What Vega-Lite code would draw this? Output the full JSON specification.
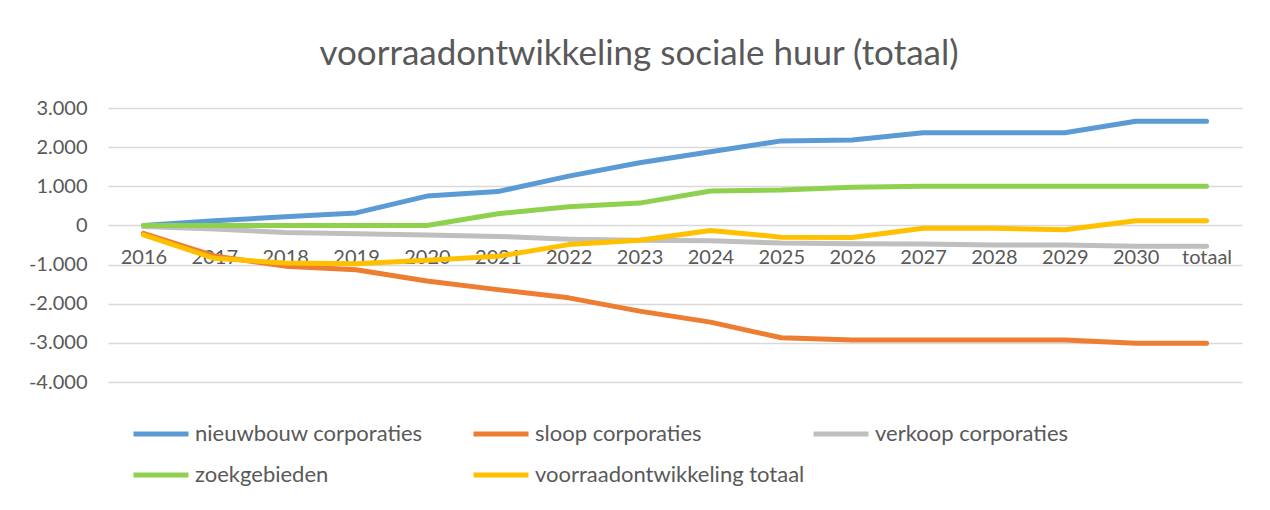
{
  "$schema": "https://vega.github.io/schema/vega-lite/v6.json",
  "width": 1134,
  "height": 274,
  "autosize": "none",
  "padding": {"left": 108, "top": 108, "right": 28, "bottom": 128},
  "background": "white",
  "config": {
    "locale": {"number": {"decimal": ",", "thousands": ".", "grouping": [3], "currency": ["€", ""], "minus": "-"}},
    "font": "Lato",
    "view": {"stroke": null}
  },
  "title": {
    "text": "voorraadontwikkeling sociale huur (totaal)",
    "font": "Lato",
    "fontSize": 35,
    "fontWeight": "normal",
    "color": "#595959",
    "anchor": "middle",
    "frame": "group",
    "baseline": "alphabetic",
    "offset": -2,
    "dx": -36
  },
  "data": {
    "values": [
      {"jaar": "2016", "reeks": "nieuwbouw corporaties", "waarde": 0},
      {"jaar": "2017", "reeks": "nieuwbouw corporaties", "waarde": 120},
      {"jaar": "2018", "reeks": "nieuwbouw corporaties", "waarde": 220},
      {"jaar": "2019", "reeks": "nieuwbouw corporaties", "waarde": 320},
      {"jaar": "2020", "reeks": "nieuwbouw corporaties", "waarde": 750},
      {"jaar": "2021", "reeks": "nieuwbouw corporaties", "waarde": 865},
      {"jaar": "2022", "reeks": "nieuwbouw corporaties", "waarde": 1260},
      {"jaar": "2023", "reeks": "nieuwbouw corporaties", "waarde": 1600},
      {"jaar": "2024", "reeks": "nieuwbouw corporaties", "waarde": 1880},
      {"jaar": "2025", "reeks": "nieuwbouw corporaties", "waarde": 2160},
      {"jaar": "2026", "reeks": "nieuwbouw corporaties", "waarde": 2180},
      {"jaar": "2027", "reeks": "nieuwbouw corporaties", "waarde": 2370},
      {"jaar": "2028", "reeks": "nieuwbouw corporaties", "waarde": 2370},
      {"jaar": "2029", "reeks": "nieuwbouw corporaties", "waarde": 2370},
      {"jaar": "2030", "reeks": "nieuwbouw corporaties", "waarde": 2660},
      {"jaar": "totaal", "reeks": "nieuwbouw corporaties", "waarde": 2660},
      {"jaar": "2016", "reeks": "sloop corporaties", "waarde": -200},
      {"jaar": "2017", "reeks": "sloop corporaties", "waarde": -780},
      {"jaar": "2018", "reeks": "sloop corporaties", "waarde": -1040},
      {"jaar": "2019", "reeks": "sloop corporaties", "waarde": -1130},
      {"jaar": "2020", "reeks": "sloop corporaties", "waarde": -1420},
      {"jaar": "2021", "reeks": "sloop corporaties", "waarde": -1640},
      {"jaar": "2022", "reeks": "sloop corporaties", "waarde": -1850},
      {"jaar": "2023", "reeks": "sloop corporaties", "waarde": -2190},
      {"jaar": "2024", "reeks": "sloop corporaties", "waarde": -2470},
      {"jaar": "2025", "reeks": "sloop corporaties", "waarde": -2870},
      {"jaar": "2026", "reeks": "sloop corporaties", "waarde": -2930},
      {"jaar": "2027", "reeks": "sloop corporaties", "waarde": -2930},
      {"jaar": "2028", "reeks": "sloop corporaties", "waarde": -2930},
      {"jaar": "2029", "reeks": "sloop corporaties", "waarde": -2930},
      {"jaar": "2030", "reeks": "sloop corporaties", "waarde": -3010},
      {"jaar": "totaal", "reeks": "sloop corporaties", "waarde": -3010},
      {"jaar": "2016", "reeks": "verkoop corporaties", "waarde": -30},
      {"jaar": "2017", "reeks": "verkoop corporaties", "waarde": -90},
      {"jaar": "2018", "reeks": "verkoop corporaties", "waarde": -180},
      {"jaar": "2019", "reeks": "verkoop corporaties", "waarde": -210},
      {"jaar": "2020", "reeks": "verkoop corporaties", "waarde": -245},
      {"jaar": "2021", "reeks": "verkoop corporaties", "waarde": -280},
      {"jaar": "2022", "reeks": "verkoop corporaties", "waarde": -350},
      {"jaar": "2023", "reeks": "verkoop corporaties", "waarde": -380},
      {"jaar": "2024", "reeks": "verkoop corporaties", "waarde": -390},
      {"jaar": "2025", "reeks": "verkoop corporaties", "waarde": -450},
      {"jaar": "2026", "reeks": "verkoop corporaties", "waarde": -465},
      {"jaar": "2027", "reeks": "verkoop corporaties", "waarde": -475},
      {"jaar": "2028", "reeks": "verkoop corporaties", "waarde": -500},
      {"jaar": "2029", "reeks": "verkoop corporaties", "waarde": -500},
      {"jaar": "2030", "reeks": "verkoop corporaties", "waarde": -535},
      {"jaar": "totaal", "reeks": "verkoop corporaties", "waarde": -535},
      {"jaar": "2016", "reeks": "zoekgebieden", "waarde": 0},
      {"jaar": "2017", "reeks": "zoekgebieden", "waarde": 0},
      {"jaar": "2018", "reeks": "zoekgebieden", "waarde": 0},
      {"jaar": "2019", "reeks": "zoekgebieden", "waarde": 0},
      {"jaar": "2020", "reeks": "zoekgebieden", "waarde": 0},
      {"jaar": "2021", "reeks": "zoekgebieden", "waarde": 300},
      {"jaar": "2022", "reeks": "zoekgebieden", "waarde": 480},
      {"jaar": "2023", "reeks": "zoekgebieden", "waarde": 570},
      {"jaar": "2024", "reeks": "zoekgebieden", "waarde": 880},
      {"jaar": "2025", "reeks": "zoekgebieden", "waarde": 905},
      {"jaar": "2026", "reeks": "zoekgebieden", "waarde": 975},
      {"jaar": "2027", "reeks": "zoekgebieden", "waarde": 1000},
      {"jaar": "2028", "reeks": "zoekgebieden", "waarde": 1000},
      {"jaar": "2029", "reeks": "zoekgebieden", "waarde": 1000},
      {"jaar": "2030", "reeks": "zoekgebieden", "waarde": 1000},
      {"jaar": "totaal", "reeks": "zoekgebieden", "waarde": 1000},
      {"jaar": "2016", "reeks": "voorraadontwikkeling totaal", "waarde": -240},
      {"jaar": "2017", "reeks": "voorraadontwikkeling totaal", "waarde": -840},
      {"jaar": "2018", "reeks": "voorraadontwikkeling totaal", "waarde": -960},
      {"jaar": "2019", "reeks": "voorraadontwikkeling totaal", "waarde": -980},
      {"jaar": "2020", "reeks": "voorraadontwikkeling totaal", "waarde": -890},
      {"jaar": "2021", "reeks": "voorraadontwikkeling totaal", "waarde": -790},
      {"jaar": "2022", "reeks": "voorraadontwikkeling totaal", "waarde": -490},
      {"jaar": "2023", "reeks": "voorraadontwikkeling totaal", "waarde": -380},
      {"jaar": "2024", "reeks": "voorraadontwikkeling totaal", "waarde": -130},
      {"jaar": "2025", "reeks": "voorraadontwikkeling totaal", "waarde": -300},
      {"jaar": "2026", "reeks": "voorraadontwikkeling totaal", "waarde": -310},
      {"jaar": "2027", "reeks": "voorraadontwikkeling totaal", "waarde": -70},
      {"jaar": "2028", "reeks": "voorraadontwikkeling totaal", "waarde": -70},
      {"jaar": "2029", "reeks": "voorraadontwikkeling totaal", "waarde": -110},
      {"jaar": "2030", "reeks": "voorraadontwikkeling totaal", "waarde": 120},
      {"jaar": "totaal", "reeks": "voorraadontwikkeling totaal", "waarde": 120}
    ]
  },
  "mark": {"type": "line", "strokeWidth": 5, "strokeCap": "round", "strokeJoin": "round"},
  "encoding": {
    "x": {
      "field": "jaar",
      "type": "ordinal",
      "sort": null,
      "scale": {"type": "point", "padding": 0.5},
      "axis": {
        "orient": "bottom",
        "offset": -156.6,
        "title": null,
        "labelAngle": 0,
        "ticks": false,
        "domain": false,
        "grid": false,
        "labelPadding": 22,
        "labelFontSize": 20,
        "labelColor": "#595959",
        "labelFont": "Lato"
      }
    },
    "y": {
      "field": "waarde",
      "type": "quantitative",
      "scale": {"domain": [-4000, 3000], "nice": false, "zero": false},
      "axis": {
        "title": null,
        "values": [-4000, -3000, -2000, -1000, 0, 1000, 2000, 3000],
        "format": ",.0f",
        "ticks": false,
        "domain": false,
        "grid": true,
        "gridColor": "#D9D9D9",
        "gridWidth": 1.5,
        "labelPadding": 21,
        "labelFontSize": 20,
        "labelColor": "#595959",
        "labelFont": "Lato"
      }
    },
    "color": {
      "field": "reeks",
      "type": "nominal",
      "sort": null,
      "scale": {
        "domain": ["nieuwbouw corporaties", "sloop corporaties", "verkoop corporaties", "zoekgebieden", "voorraadontwikkeling totaal"],
        "range": ["#5B9BD5", "#ED7D31", "#BFBFBF", "#8FD14F", "#FFC000"]
      },
      "legend": {
        "title": null,
        "orient": "none",
        "legendX": 23,
        "legendY": 296,
        "direction": "horizontal",
        "columns": 3,
        "gridAlign": "all",
        "columnPadding": -2,
        "rowPadding": -7,
        "symbolType": "stroke",
        "symbolSize": 3025,
        "symbolStrokeWidth": 5,
        "labelFontSize": 22,
        "labelColor": "#595959",
        "labelFont": "Lato",
        "labelLimit": 400,
        "labelOffset": 4,
        "padding": 0
      }
    }
  }
}
